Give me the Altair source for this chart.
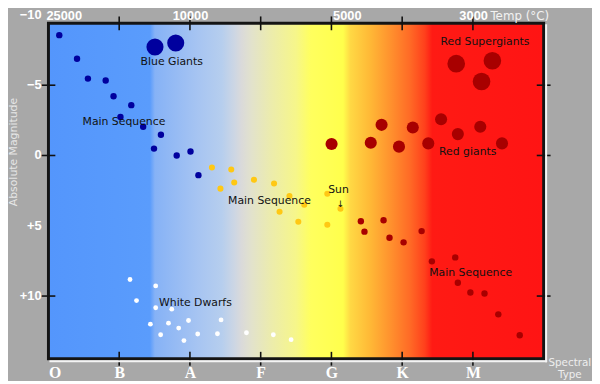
import altair as alt
import pandas as pd

# ---------------- data ----------------
spectral_types = ["O", "B", "A", "F", "G", "K", "M"]

blue_ms_x = [0.153, 0.404, 0.558, 0.809, 0.920, 1.171, 1.018, 1.339, 1.590, 1.492, 1.813, 2.008, 2.120]
blue_ms_y = [-8.56, -6.88, -5.47, -5.33, -4.21, -3.58, -2.74, -2.04, -1.47, -0.49, 0.0, -0.28, 1.40]

blue_giant_x = [1.506, 1.799]
blue_giant_y = [-7.72, -8.0]

yellow_ms_x = [2.311, 2.584, 2.626, 2.431, 2.905, 3.189, 3.407, 3.267, 3.616, 3.532, 3.942, 3.942]
yellow_ms_y = [0.86, 1.00, 1.92, 2.36, 1.73, 1.99, 2.88, 4.00, 3.51, 4.72, 2.72, 4.93]

sun_x = [4.128]
sun_y = [3.79]

red_ms_x = [4.416, 4.467, 4.737, 4.821, 5.020, 5.275, 5.420, 5.750, 5.787, 5.964, 6.164, 6.359, 6.662]
red_ms_y = [4.68, 5.42, 4.61, 5.85, 6.18, 5.38, 7.53, 7.25, 9.05, 9.75, 9.82, 11.30, 12.79]

red_giant_x = [4.002, 4.556, 4.709, 4.955, 5.150, 5.369, 5.550, 5.787, 6.104, 6.411]
red_giant_y = [-0.82, -0.91, -2.18, -0.63, -1.99, -0.86, -2.58, -1.52, -2.04, -0.86]

red_super_x = [5.764, 6.275, 6.122]
red_super_y = [-6.53, -6.74, -5.26]

white_dwarf_x = [1.153, 1.516, 1.245, 1.516, 1.743, 1.441, 1.697, 1.841, 1.980, 1.586, 1.915, 2.110, 2.389, 2.440, 2.799, 3.179, 3.430]
white_dwarf_y = [8.82, 9.28, 10.32, 10.83, 10.93, 12.00, 11.93, 12.28, 11.74, 12.75, 13.17, 12.70, 12.68, 11.70, 12.61, 12.75, 13.10]

label_text = ["Blue Giants", "Main Sequence", "Main Sequence", "Sun", "\u2193",
              "Red Supergiants", "Red giants", "Main Sequence", "White Dwarfs"]
label_x = [1.743, 1.067, 3.124, 4.100, 4.128, 6.171, 5.927, 5.968, 2.078]
label_y = [-6.67, -2.39, 3.23, 2.45, 3.42, -8.07, -0.28, 8.35, 10.53]
label_size = [11, 11, 11, 11, 9, 11, 11, 11, 11]

temp_text = ["25000", "10000", "5000", "3000"]
temp_x = [0.223, 2.008, 4.225, 6.010]

ylab_vals = [-10, -5, 0, 5, 10]
ylab_text = ["\u221210", "\u22125", "0", "+5", "+10"]

xtick_vals = [1, 2, 3, 4, 5, 6]
ytick_vals = [-5, 0, 10]

# ---------------- layout ----------------
W, H = 502, 340
XDOM = [0, 7]
YDOM = [-9.40, 14.46]

xs = alt.Scale(domain=XDOM, nice=False, zero=False)
ys = alt.Scale(domain=YDOM, nice=False, zero=False, reverse=True)

# ---------------- tables ----------------
groups = [
    ("blue", blue_ms_x, blue_ms_y, 42),
    ("blue", blue_giant_x, blue_giant_y, 300),
    ("yellow", yellow_ms_x, yellow_ms_y, 38),
    ("yellow", sun_x, sun_y, 38),
    ("red", red_ms_x, red_ms_y, 42),
    ("red", red_giant_x, red_giant_y, 150),
    ("red", red_super_x, red_super_y, 320),
    ("white", white_dwarf_x, white_dwarf_y, 24),
]
rows = []
for g, xx, yy, s in groups:
    for a, b in zip(xx, yy):
        rows.append({"x": a, "y": b, "grp": g, "size": s})
stars = pd.DataFrame(rows)

bg = pd.DataFrame({"x0": [XDOM[0]], "x1": [XDOM[1]], "y0": [YDOM[0]], "y1": [YDOM[1]]})

stops = [
    (0.0, "#5496fc"), (0.205, "#5a9cfc"), (0.215, "#86b2f6"), (0.30, "#a6c4f2"),
    (0.35, "#b6ceee"), (0.375, "#ccd6e4"), (0.39, "#dadada"), (0.41, "#e2e2cc"),
    (0.45, "#ececac"), (0.50, "#f6f68a"), (0.53, "#ffff5e"), (0.595, "#ffff4c"),
    (0.61, "#ffd844"), (0.65, "#ffb836"), (0.69, "#ff922e"), (0.73, "#ff6a26"),
    (0.76, "#ff401c"), (0.775, "#ff1a14"), (1.0, "#ff1414"),
]
grad = alt.LinearGradient(
    gradient="linear",
    stops=[alt.GradientStop(color=c, offset=o) for o, c in stops],
    x1=0, x2=1, y1=0, y2=0,
)

background = alt.Chart(bg).mark_rect(color=grad).encode(
    x=alt.X("x0:Q", scale=xs, axis=alt.Axis(
        values=[0, 1, 2, 3, 4, 5, 6],
        labelExpr="['O','B','A','F','G','K','M'][datum.value]",
        labelFont="Liberation Serif", labelFontWeight="bold", labelFontSize=16,
        labelColor="white", labelPadding=6, ticks=False, domain=False, grid=False,
        title=["Spectral", "Type"], titleFont="DejaVu Sans", titleFontSize=10.5,
        titleFontWeight="normal", titleColor="#eeeeee", titleX=528, titleY=-1,
        titleAlign="center", titleBaseline="top", titleLineHeight=12,
    )),
    x2="x1:Q",
    y=alt.Y("y0:Q", scale=ys, axis=alt.Axis(
        labels=False, ticks=False, domain=False, grid=False,
        title="Absolute Magnitude", titleFont="DejaVu Sans", titleFontSize=11,
        titleFontWeight="normal", titleColor="#e6e6e6", titleAngle=270,
        titleX=-35, titleY=130, titleAlign="center", titleBaseline="middle",
    )),
    y2="y1:Q",
)

frame = alt.Chart(bg).mark_rect(filled=False, stroke="#141414", strokeWidth=3).encode(
    x=alt.X("x0:Q", scale=xs), x2="x1:Q", y=alt.Y("y0:Q", scale=ys), y2="y1:Q")

points = alt.Chart(stars).mark_circle(opacity=1).encode(
    x=alt.X("x:Q", scale=xs),
    y=alt.Y("y:Q", scale=ys),
    color=alt.Color("grp:N", scale=alt.Scale(
        domain=["blue", "yellow", "red", "white"],
        range=["#00009e", "#ffc814", "#a80000", "#ffffff"]), legend=None),
    size=alt.Size("size:Q", scale=None, legend=None),
)

labels = alt.Chart(pd.DataFrame({"t": label_text, "x": label_x, "y": label_y, "s": label_size})).mark_text(
    font="DejaVu Sans", color="#111111", align="center", baseline="middle"
).encode(x=alt.X("x:Q", scale=xs), y=alt.Y("y:Q", scale=ys), text="t:N",
         size=alt.Size("s:Q", scale=None, legend=None))

temps = alt.Chart(pd.DataFrame({"t": temp_text, "x": temp_x})).mark_text(
    font="Liberation Sans", fontSize=13, fontWeight="bold", color="white",
    align="center", baseline="alphabetic"
).encode(x=alt.X("x:Q", scale=xs), y=alt.value(-3), text="t:N")

temp_title = alt.Chart(pd.DataFrame({"t": ["Temp (\u00b0C)"], "x": [6.247]})).mark_text(
    font="DejaVu Sans", fontSize=12, color="#f2f2f2", align="left", baseline="alphabetic"
).encode(x=alt.X("x:Q", scale=xs), y=alt.value(-3), text="t:N")

ylabels = alt.Chart(pd.DataFrame({"t": ylab_text, "v": ylab_vals})).mark_text(
    font="Liberation Sans", fontSize=13, fontWeight="bold", color="white",
    align="right", baseline="middle"
).encode(y=alt.Y("v:Q", scale=ys), x=alt.value(-7), text="t:N")

xt = pd.DataFrame({"v": xtick_vals})
yt = pd.DataFrame({"v": ytick_vals})
tick_style = dict(color="#111111", thickness=1.6, size=14, opacity=1)
top_ticks = alt.Chart(xt).mark_tick(**tick_style).encode(
    x=alt.X("v:Q", scale=xs), y=alt.value(0))
bot_ticks = alt.Chart(xt).mark_tick(**tick_style).encode(
    x=alt.X("v:Q", scale=xs), y=alt.value(H))
left_ticks = alt.Chart(yt).mark_tick(**tick_style).encode(
    y=alt.Y("v:Q", scale=ys), x=alt.value(0))
right_ticks = alt.Chart(yt).mark_tick(**tick_style).encode(
    y=alt.Y("v:Q", scale=ys), x=alt.value(W))

bevel_r = alt.Chart(bg).mark_rule(color="#f4f4f4", strokeWidth=2).encode(
    x=alt.value(W + 2.5), y=alt.value(1), y2=alt.value(H + 3.5))
bevel_b = alt.Chart(bg).mark_rule(color="#f4f4f4", strokeWidth=2).encode(
    y=alt.value(H + 2.5), x=alt.value(1), x2=alt.value(W + 3.5))

chart = alt.layer(
    background, points, labels, frame, top_ticks, bot_ticks, left_ticks, right_ticks,
    bevel_r, bevel_b, temps, temp_title, ylabels,
).properties(
    width=W, height=H,
    background="#a8a8a8",
    padding={"left": 41, "top": 13, "right": 49, "bottom": 20},
    autosize=alt.AutoSizeParams(type="none"),
).configure_view(
    stroke=None,
)

chart.save("out.html", embed_options={"renderer": "svg", "actions": False})
